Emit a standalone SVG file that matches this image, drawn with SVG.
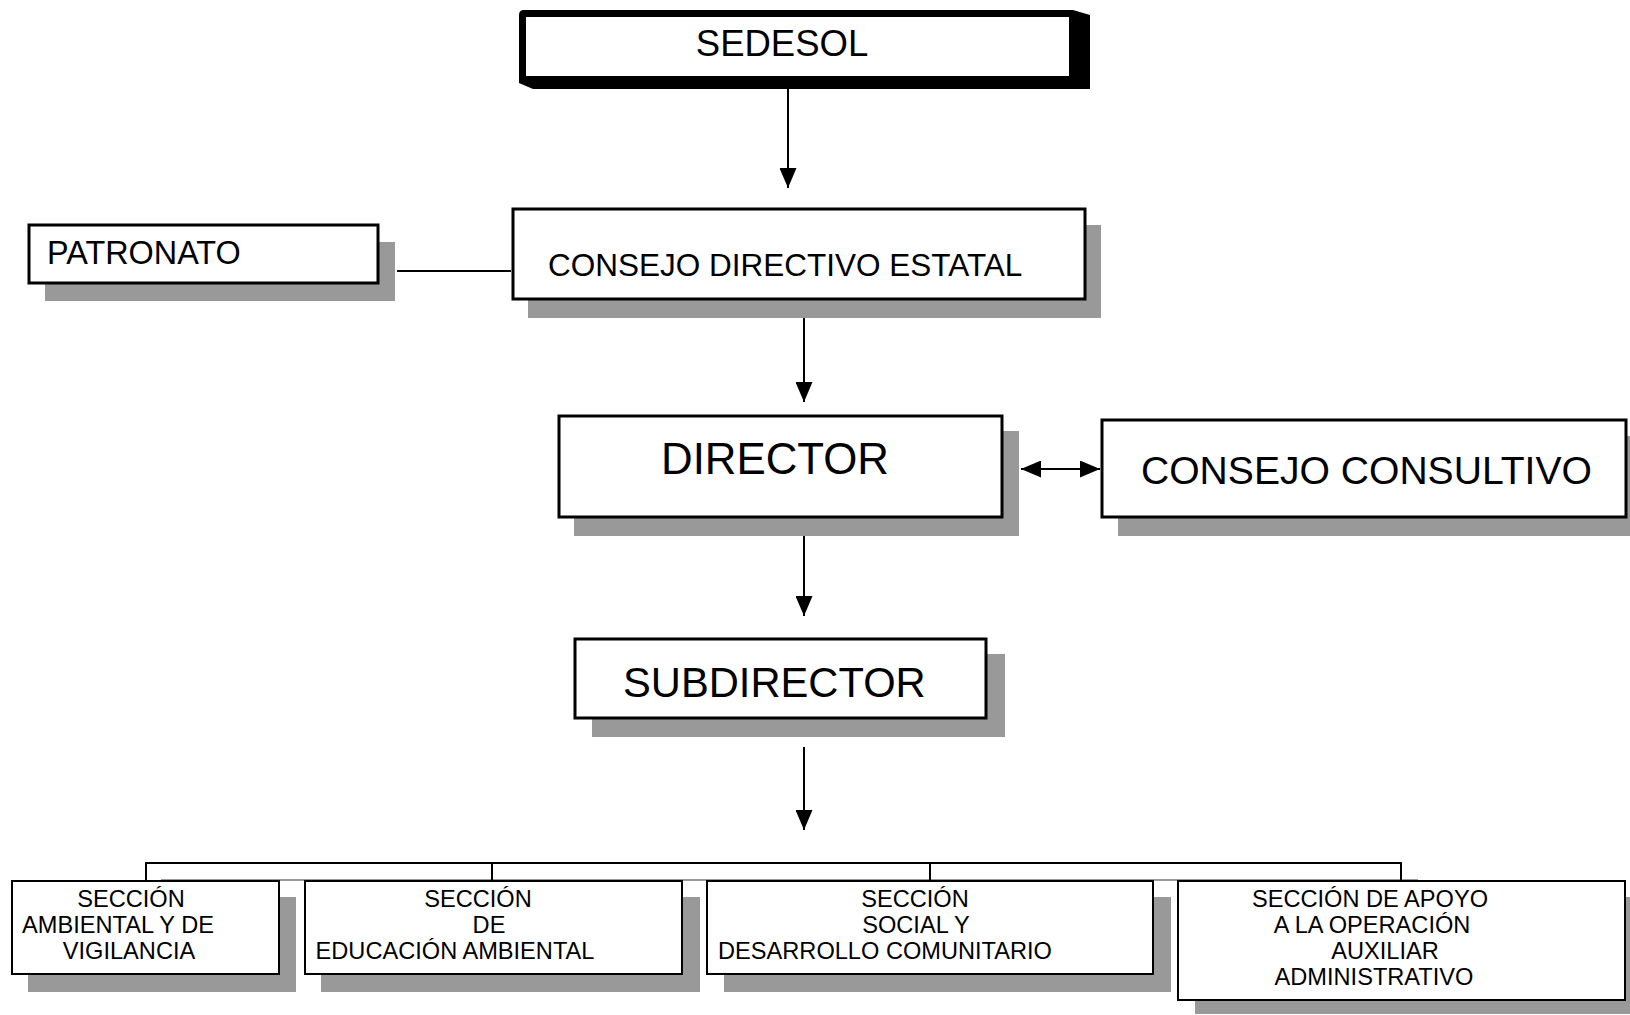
<svg xmlns="http://www.w3.org/2000/svg" width="1630" height="1015" viewBox="0 0 1630 1015">
<defs>
<style>
.shadow{fill:#999999;stroke:none}
.box{fill:#ffffff;stroke:#000000;stroke-width:3}
.sbox{fill:#ffffff;stroke:#000000;stroke-width:2}
.t{font-family:"Liberation Sans",Arial,sans-serif;fill:#000000}
.s{font-family:"Liberation Sans",Arial,sans-serif;fill:#000000;font-size:23.6px;text-anchor:middle}
.ln{stroke:#000000;stroke-width:2;fill:none}
</style>
<marker id="ah" viewBox="0 0 20 17" refX="20" refY="8.5" markerWidth="20" markerHeight="17" markerUnits="userSpaceOnUse" orient="auto-start-reverse">
<path d="M0,0 L20,8.5 L0,17 Z" fill="#000000"/>
</marker>
</defs>
<rect width="1630" height="1015" fill="#ffffff"/>

<g id="connectors">
<line class="ln" x1="788" y1="89" x2="788" y2="188" marker-end="url(#ah)"/>
<line class="ln" x1="397" y1="271" x2="511" y2="271"/>
<line class="ln" x1="804" y1="318" x2="804" y2="402" marker-end="url(#ah)"/>
<line class="ln" x1="1021" y1="469" x2="1100" y2="469" marker-start="url(#ah)" marker-end="url(#ah)"/>
<line class="ln" x1="804" y1="536" x2="804" y2="616" marker-end="url(#ah)"/>
<line class="ln" x1="804" y1="747" x2="804" y2="830" marker-end="url(#ah)"/>
<line x1="161" y1="880" x2="1418" y2="880" stroke="#999999" stroke-width="2"/>
<polyline class="ln" points="146,882 146,863 1401,863 1401,882"/>
<line class="ln" x1="492" y1="863" x2="492" y2="882"/>
<line class="ln" x1="930" y1="863" x2="930" y2="882"/>
</g>

<g id="sedesol">
<path d="M524,10 L1073,10 L1090,15 L1090,89 L533,89 L519,83 L519,15 Q519,10 524,10 Z" fill="#000000"/>
<rect x="526" y="17" width="543" height="59" fill="#ffffff"/>
<text class="t" x="782" y="56" font-size="36.5" text-anchor="middle">SEDESOL</text>
</g>

<g id="patronato">
<rect class="shadow" x="45" y="242" width="350" height="59"/>
<rect class="box" x="29" y="225" width="349" height="58"/>
<text class="t" x="47" y="264" font-size="32.4">PATRONATO</text>
</g>

<g id="consejo-directivo">
<rect class="shadow" x="528" y="225" width="573" height="93"/>
<rect class="box" x="513" y="209" width="572" height="90"/>
<text class="t" x="548" y="276" font-size="31.5">CONSEJO DIRECTIVO ESTATAL</text>
</g>

<g id="director">
<rect class="shadow" x="574" y="431" width="445" height="105"/>
<rect class="box" x="559" y="416" width="443" height="101"/>
<text class="t" x="661" y="474" font-size="43.8">DIRECTOR</text>
</g>

<g id="consejo-consultivo">
<rect class="shadow" x="1118" y="436" width="514" height="100"/>
<rect class="box" x="1102" y="420" width="524" height="97"/>
<text class="t" x="1141" y="484" font-size="39.1">CONSEJO CONSULTIVO</text>
</g>

<g id="subdirector">
<rect class="shadow" x="592" y="654" width="413" height="83"/>
<rect class="box" x="575" y="639" width="411" height="79"/>
<text class="t" x="623" y="697" font-size="41.7">SUBDIRECTOR</text>
</g>

<g id="seccion-ambiental">
<rect class="shadow" x="28" y="897" width="268" height="95"/>
<rect class="sbox" x="12" y="881" width="267" height="93"/>
<text class="s" x="131" y="907">SECCIÓN</text>
<text class="s" x="118" y="933">AMBIENTAL Y DE</text>
<text class="s" x="129" y="959">VIGILANCIA</text>
</g>

<g id="seccion-educacion">
<rect class="shadow" x="321" y="897" width="379" height="95"/>
<rect class="sbox" x="305" y="881" width="377" height="93"/>
<text class="s" x="478" y="907">SECCIÓN</text>
<text class="s" x="489" y="933">DE</text>
<text class="s" x="455" y="959">EDUCACIÓN AMBIENTAL</text>
</g>

<g id="seccion-social">
<rect class="shadow" x="724" y="897" width="447" height="95"/>
<rect class="sbox" x="707" y="881" width="446" height="93"/>
<text class="s" x="915" y="907">SECCIÓN</text>
<text class="s" x="916" y="933">SOCIAL Y</text>
<text class="s" x="885" y="959">DESARROLLO COMUNITARIO</text>
</g>

<g id="seccion-apoyo">
<rect class="shadow" x="1195" y="897" width="437" height="117"/>
<rect class="sbox" x="1178" y="881" width="447" height="119"/>
<text class="s" x="1370" y="907">SECCIÓN DE APOYO</text>
<text class="s" x="1372" y="933">A LA OPERACIÓN</text>
<text class="s" x="1385" y="959">AUXILIAR</text>
<text class="s" x="1374" y="985">ADMINISTRATIVO</text>
</g>
</svg>
